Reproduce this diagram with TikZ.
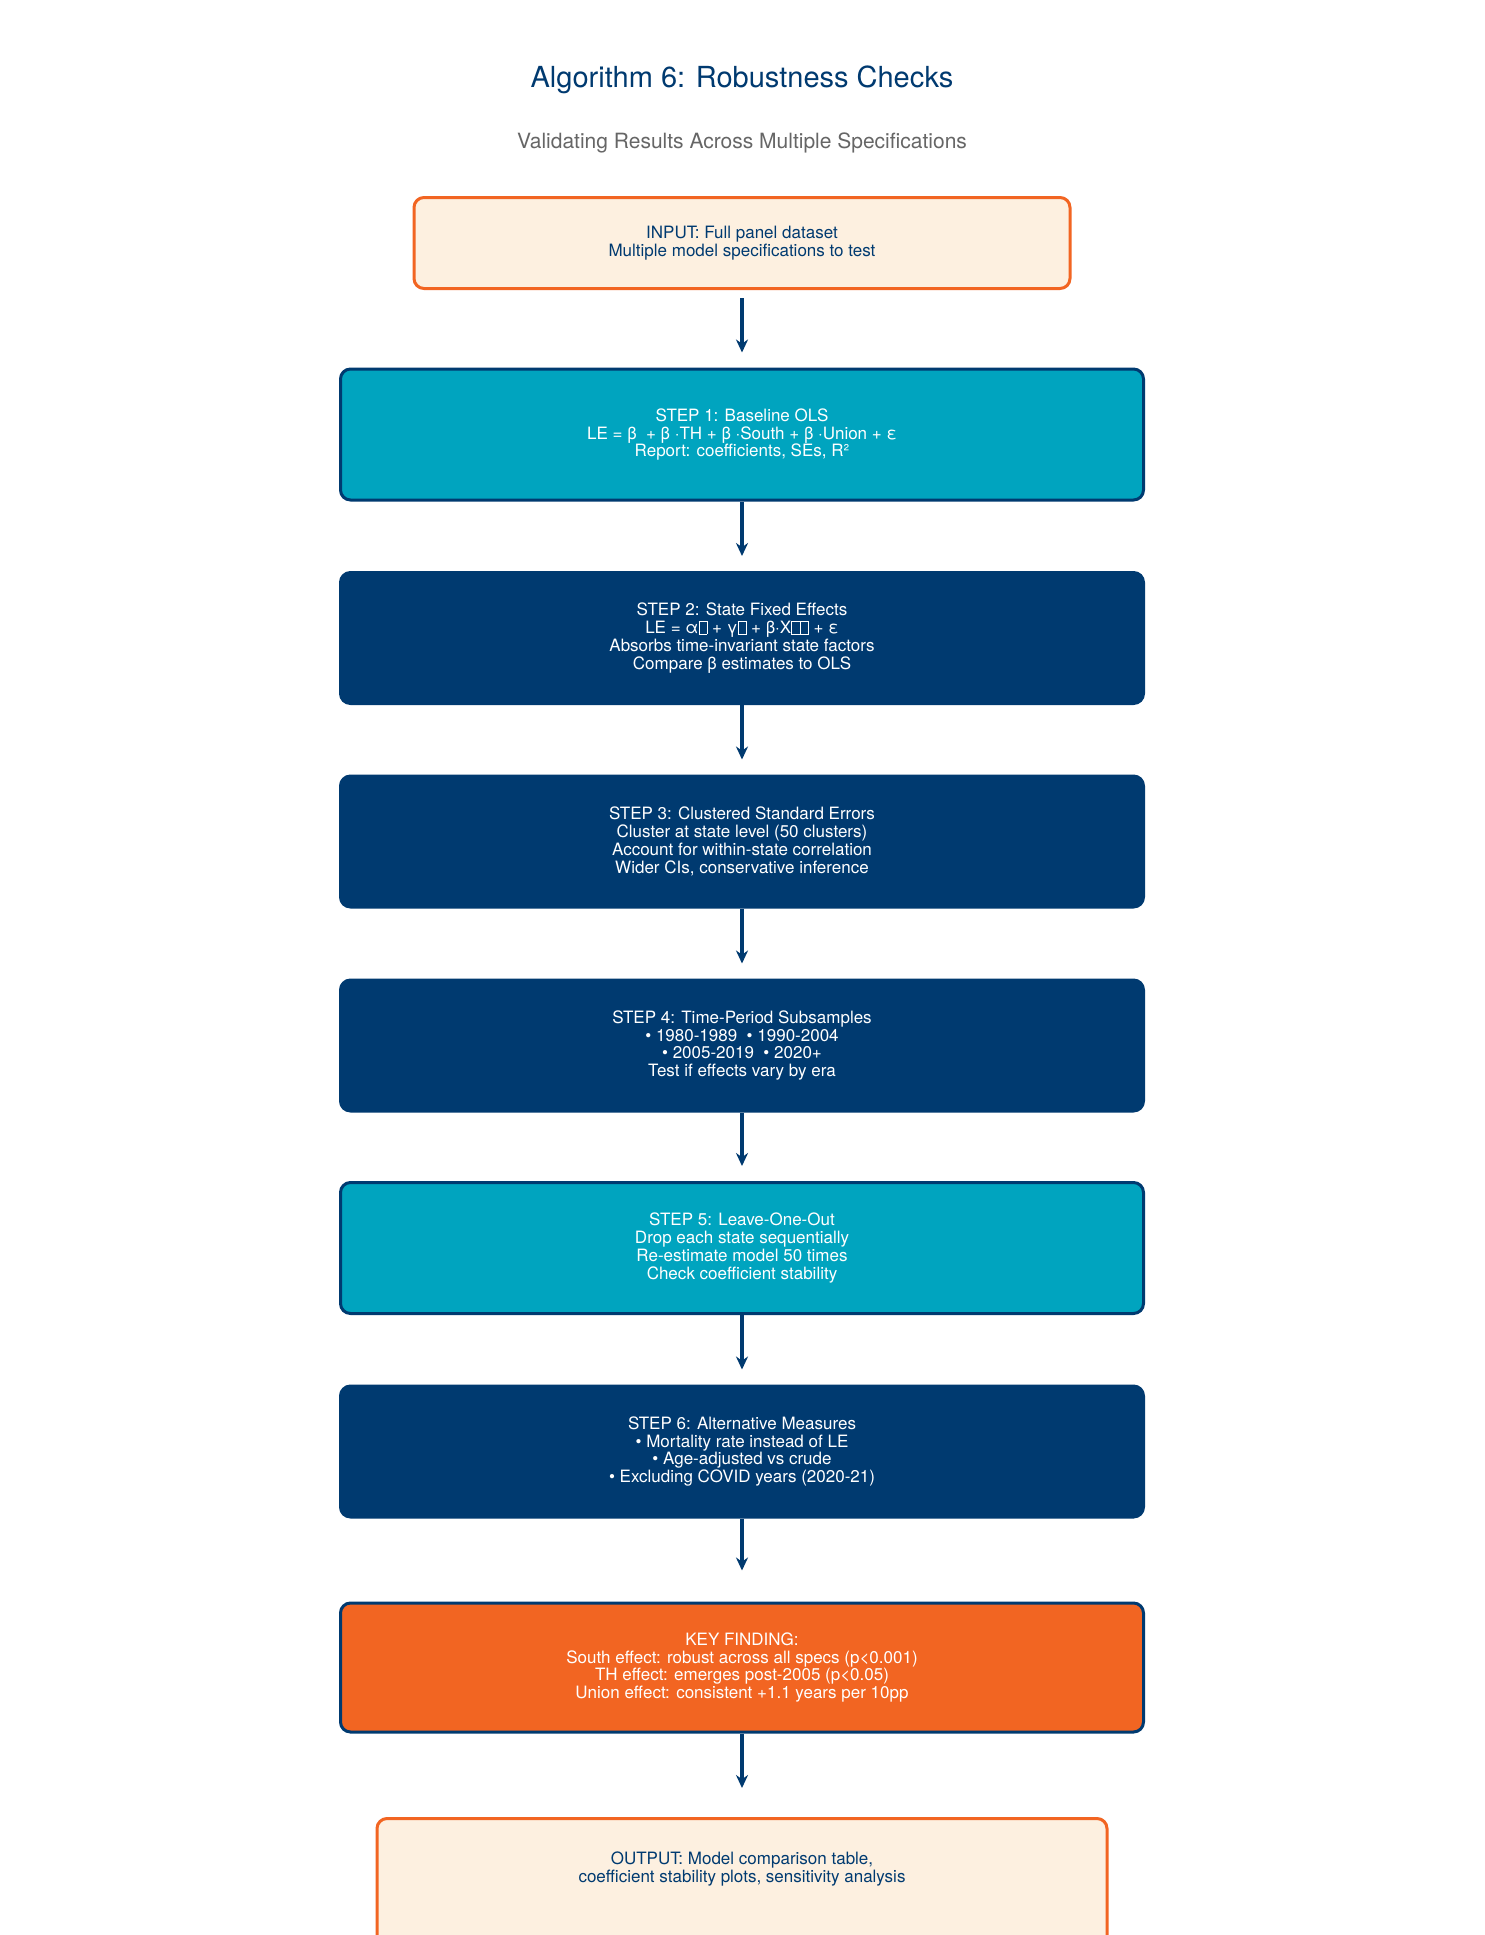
\documentclass[tikz,border=0pt]{standalone}
\usepackage{fontspec}
\setmainfont{TeX Gyre Heros}
\definecolor{rcnavy}{RGB}{0,58,112}
\definecolor{rcteal}{RGB}{0,164,191}
\definecolor{rcorange}{RGB}{242,101,34}
\definecolor{rccream}{RGB}{253,240,224}
\definecolor{rcgray}{RGB}{102,102,102}
\usetikzlibrary{arrows.meta}
% empty glyph box, as the missing subscripts show
\newcommand{\tofu}{{\fboxsep=0pt\fboxrule=0.6pt\fbox{\rule{0pt}{0.72em}\hspace{0.45em}}}}

\begin{document}
\begin{tikzpicture}[x=1pt,y=-1pt,
  box/.style={rounded corners=10pt, minimum width=803pt, minimum height=131pt, align=center, font=\fontsize{17}{17.8}\selectfont, line width=3pt},
  tealbox/.style={box, fill=rcteal, draw=rcnavy, text=white},
  navybox/.style={box, fill=rcnavy, draw=rcnavy, text=white},
  iobox/.style={box, fill=rccream, draw=rcorange, text=rcnavy},
  flow/.style={-{Stealth[length=13pt,width=12pt]}, line width=3.5pt, draw=rcnavy}]
  \fill[white] (0,0) rectangle (1485,1935);

  \node[font=\fontsize{29}{34}\selectfont, text=rcnavy] (title) at (742,80) {Algorithm 6: Robustness Checks};
  \node[font=\fontsize{21}{25}\selectfont, text=rcgray] (subtitle) at (742,143) {Validating Results Across Multiple Specifications};

  % input
  \node[iobox, minimum width=656pt, minimum height=91pt] (inp) at (742,243) {INPUT: Full panel dataset\\Multiple model specifications to test};

  % steps
  \node[tealbox] (s1) at (742,434.5) {STEP 1: Baseline OLS\\LE = β\ \ + β\ ·TH + β\ ·South + β\ ·Union + ε\\Report: coefficients, SEs, R²};
  \node[navybox] (s2) at (742,638) {STEP 2: State Fixed Effects\\LE = α\tofu{} + γ\tofu{} + β·X\tofu\tofu{} + ε\\Absorbs time-invariant state factors\\Compare β estimates to OLS};
  \node[navybox] (s3) at (742,841.5) {STEP 3: Clustered Standard Errors\\Cluster at state level (50 clusters)\\Account for within-state correlation\\Wider CIs, conservative inference};
  \node[navybox] (s4) at (742,1045.5) {STEP 4: Time-Period Subsamples\\• 1980-1989\ \ • 1990-2004\\• 2005-2019\ \ • 2020+\\Test if effects vary by era};
  \node[tealbox] (s5) at (742,1248) {STEP 5: Leave-One-Out\\Drop each state sequentially\\Re-estimate model 50 times\\Check coefficient stability};
  \node[navybox] (s6) at (742,1451.5) {STEP 6: Alternative Measures\\• Mortality rate instead of LE\\• Age-adjusted vs crude\\• Excluding COVID years (2020-21)};

  % finding
  \node[box, fill=rcorange, draw=rcnavy, text=white, minimum height=129pt] (key) at (742,1667.5) {KEY FINDING:\\South effect: robust across all specs (p<0.001)\\TH effect: emerges post-2005 (p<0.05)\\Union effect: consistent +1.1 years per 10pp};

  % output, running past the lower edge
  \begin{scope}
    \clip (0,0) rectangle (1485,1935);
    \node[iobox, minimum width=730pt, minimum height=170pt, anchor=north] (out) at (742,1817) {};
  \end{scope}
  \node[align=center, text=rcnavy, font=\fontsize{17}{17.8}\selectfont] (outtxt) at (742,1869) {OUTPUT: Model comparison table,\\coefficient stability plots, sensitivity analysis};

  \draw[flow, shorten <=8pt, shorten >=15pt] (inp) -- (s1);
  \draw[flow, shorten >=15pt] (s1) -- (s2);
  \draw[flow, shorten >=15pt] (s2) -- (s3);
  \draw[flow, shorten >=15pt] (s3) -- (s4);
  \draw[flow, shorten >=15pt] (s4) -- (s5);
  \draw[flow, shorten >=15pt] (s5) -- (s6);
  \draw[flow, shorten >=31pt] (s6) -- (key);
  \draw[flow, shorten >=29pt] (key) -- (out);
\end{tikzpicture}
\end{document}
